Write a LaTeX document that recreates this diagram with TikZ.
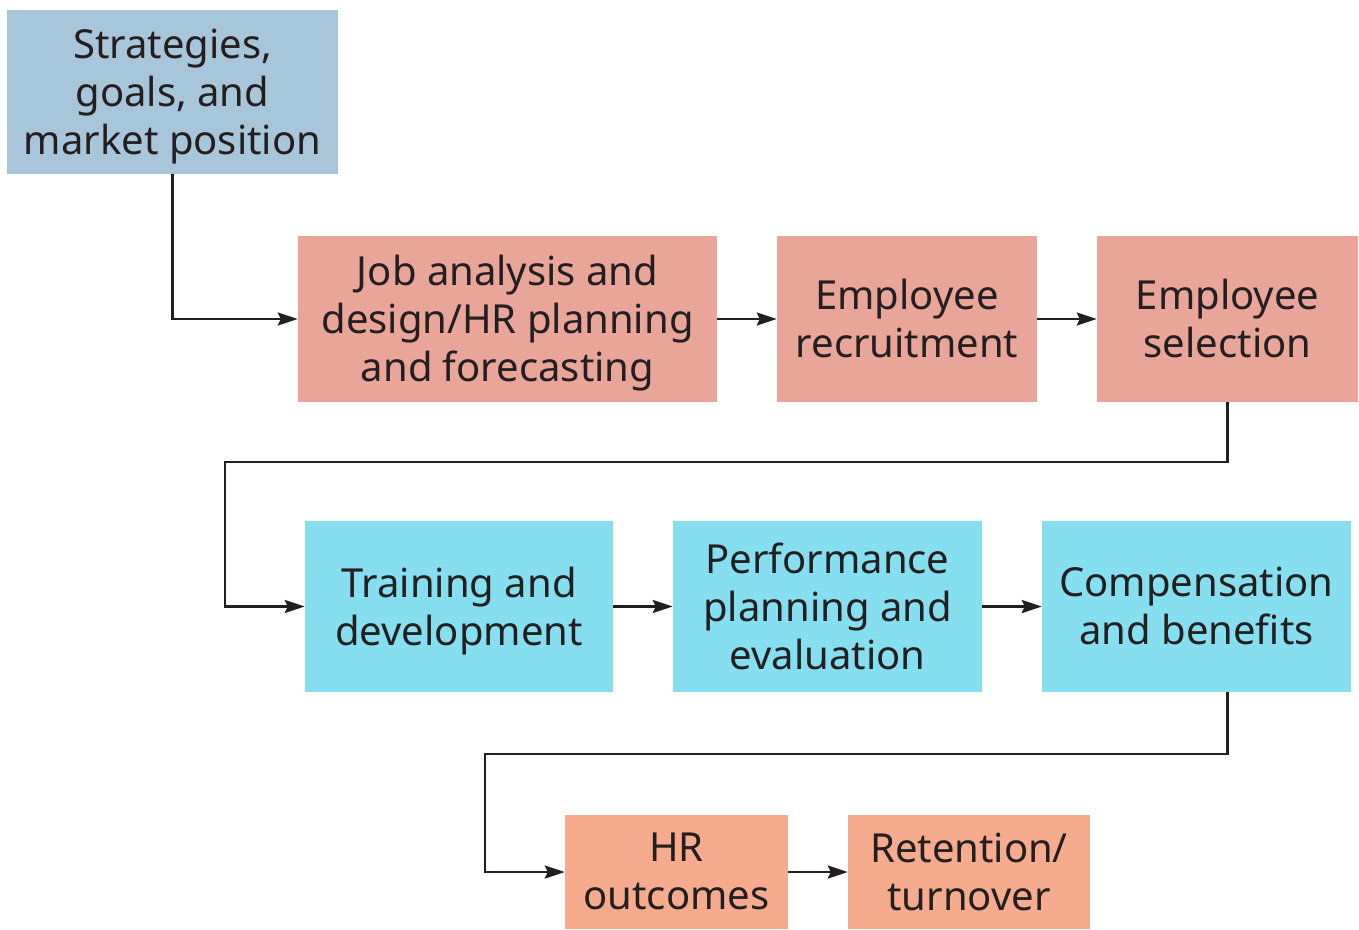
\documentclass[tikz,border=0pt]{standalone}
\usepackage{fontspec}
\setmainfont{Noto Sans}
\usetikzlibrary{arrows.meta}
\definecolor{stratc}{HTML}{A8C6D9}
\definecolor{redc}{HTML}{E8A598}
\definecolor{cyanc}{HTML}{86DFEE}
\definecolor{orangec}{HTML}{F7AB8E}
\definecolor{inkc}{HTML}{231F20}
\tikzset{
  box/.style={rectangle, inner sep=0pt},
  txt/.style={inner sep=0pt, align=center, text=inkc, yshift=-4.5pt,
    font=\fontsize{40}{48}\selectfont},
  conn/.style={draw=inkc, line width=2.6pt, -{Stealth[length=20pt,width=13pt,inset=3pt]}}
}
\begin{document}
\begin{tikzpicture}[x=1pt,y=1pt]
\useasboundingbox (0,0) rectangle (1359,-929);
\node[box, fill=stratc, minimum width=331pt, minimum height=164pt, label={[txt]center:{Strategies,\\goals, and\\market position\vphantom{p}}}] (strat) at (172.5,-92) {};
\node[box, fill=redc, minimum width=419pt, minimum height=166pt, label={[txt]center:{Job analysis and\\design/HR planning\\and forecasting\vphantom{p}}}] (job) at (507.5,-319) {};
\node[box, fill=redc, minimum width=260pt, minimum height=166pt, label={[txt]center:{Employee\\recruitment\vphantom{p}}}] (rec) at (907,-319) {};
\node[box, fill=redc, minimum width=261pt, minimum height=166pt, label={[txt]center:{Employee\\selection\vphantom{p}}}] (sel) at (1227.5,-319) {};
\node[box, fill=cyanc, minimum width=308pt, minimum height=171pt, label={[txt]center:{Training and\\development\vphantom{p}}}] (train) at (459,-606.5) {};
\node[box, fill=cyanc, minimum width=309pt, minimum height=171pt, label={[txt]center:{Performance\\planning and\\evaluation\vphantom{p}}}] (perf) at (827.5,-606.5) {};
\node[box, fill=cyanc, minimum width=309pt, minimum height=171pt, label={[txt]center:{Compensation\\and benefits\vphantom{p}}}] (comp) at (1196.5,-606.5) {};
\node[box, fill=orangec, minimum width=223pt, minimum height=114pt, label={[txt]center:{HR\\outcomes\vphantom{p}}}] (hr) at (676.5,-872) {};
\node[box, fill=orangec, minimum width=242pt, minimum height=114pt, label={[txt]center:{Retention/\\turnover\vphantom{p}}}] (ret) at (969,-872) {};
\coordinate (c1) at (225,-462);
\coordinate (c2) at (485,-754);
\draw[conn] (strat.south) |- (job.west);
\draw[conn] (job) -- (rec);
\draw[conn] (rec) -- (sel);
\draw[conn] (sel.south) |- (c1) |- (train.west);
\draw[conn] (train) -- (perf);
\draw[conn] (perf) -- (comp);
\draw[conn] (sel.south |- comp.south) |- (c2) |- (hr.west);
\draw[conn] (hr) -- (ret);
\end{tikzpicture}
\end{document}
